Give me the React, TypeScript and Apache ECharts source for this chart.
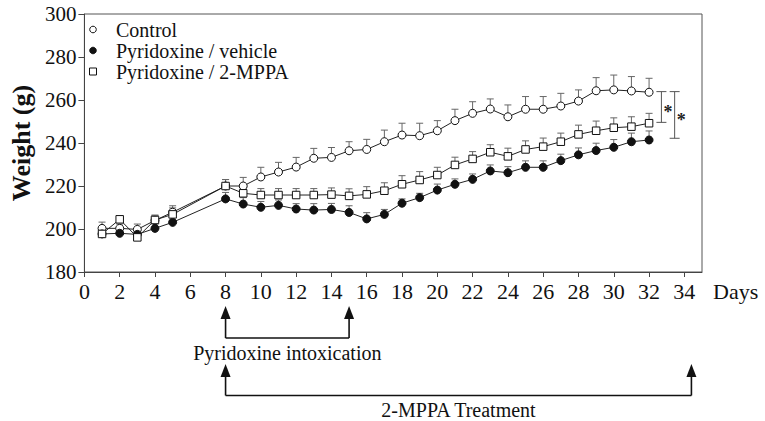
import React, { useEffect, useRef } from 'react';
import * as echarts from 'echarts';

const FONT = "'Liberation Serif', 'Times New Roman', Times, serif";

const days = [1, 2, 3, 4, 5, 8, 9, 10, 11, 12, 13, 14, 15, 16, 17, 18, 19, 20, 21, 22, 23, 24, 25, 26, 27, 28, 29, 30, 31, 32];
const controlMean = [200.3, 200.3, 199.8, 204.0, 207.8, 220.0, 220.0, 224.2, 226.5, 228.8, 232.9, 233.3, 236.4, 237.0, 240.6, 243.7, 243.4, 245.7, 250.4, 253.8, 255.8, 252.2, 255.7, 255.7, 257.2, 259.5, 264.3, 264.7, 264.2, 263.6];
const controlSem = [2.9, 2.0, 2.5, 2.5, 3.0, 3.0, 4.0, 4.5, 4.5, 4.5, 4.6, 4.6, 4.2, 4.7, 5.4, 5.5, 5.8, 4.7, 5.3, 5.4, 4.7, 5.5, 5.9, 5.9, 5.9, 5.2, 6.1, 6.9, 6.7, 6.5];
const vehicleMean = [197.7, 198.0, 197.5, 200.3, 203.1, 214.0, 211.6, 210.1, 211.0, 209.3, 208.8, 209.1, 207.7, 204.7, 206.8, 212.0, 214.6, 218.1, 220.8, 223.1, 227.0, 226.2, 228.7, 228.7, 231.8, 234.5, 236.5, 238.0, 240.6, 241.4];
const vehicleSem = [1.5, 1.5, 1.5, 2.0, 2.5, 3.0, 3.0, 2.7, 2.5, 2.5, 3.0, 2.8, 3.1, 2.9, 2.3, 2.0, 2.0, 2.8, 2.5, 2.5, 2.8, 2.8, 3.0, 3.0, 3.0, 3.2, 3.4, 3.6, 4.0, 4.2];
const mppaMean = [197.7, 204.5, 196.1, 204.2, 206.8, 220.0, 216.6, 215.8, 215.8, 215.8, 215.8, 216.0, 215.4, 216.1, 217.8, 220.8, 222.8, 225.1, 229.8, 232.6, 235.7, 233.8, 237.0, 238.3, 240.6, 244.0, 245.7, 247.1, 247.6, 249.2];
const mppaSem = [1.5, 1.5, 2.0, 2.0, 3.0, 3.0, 2.3, 3.0, 3.0, 3.0, 3.0, 3.1, 3.3, 3.6, 3.7, 4.0, 3.9, 3.6, 3.6, 3.4, 3.5, 3.8, 4.0, 4.0, 4.0, 4.3, 4.5, 4.6, 4.6, 4.6];

const seriesNames = ['Control', 'Pyridoxine / vehicle', 'Pyridoxine / 2-MPPA'];
const xTickValues = [0, 2, 4, 6, 8, 10, 12, 14, 16, 18, 20, 22, 24, 26, 28, 30, 32, 34];
const xAxisName = 'Days';
const yAxisName = 'Weight (g)';

const periodLabels = ['Pyridoxine intoxication', '2-MPPA Treatment'];
const periodStart = [8, 8];
const periodEnd = [15, 34.4];

const sigX = [32.7, 33.45];
const sigTop = [263.9, 263.9];
const sigBottom = [249.6, 242.2];
const sigLabel = ['*', '*'];

// layout (pixel offsets below the x axis for the period annotations)
const annotLayout = [
  { tip: 34, bar: 66, text: 81 },
  { tip: 92, bar: 123.5, text: 138 },
];

function errorRender(params: any, api: any) {
  const x = api.value(0);
  const y = api.value(1);
  const e = api.value(2);
  const p0 = api.coord([x, y]);
  const p1 = api.coord([x, y + e]);
  const hw = 3.5;
  const st = { stroke: '#666', lineWidth: 1 };
  return {
    type: 'group',
    children: [
      { type: 'line', shape: { x1: p0[0], y1: p0[1], x2: p1[0], y2: p1[1] }, style: st },
      { type: 'line', shape: { x1: p1[0] - hw, y1: p1[1], x2: p1[0] + hw, y2: p1[1] }, style: st },
    ],
  };
}

function sigRender(params: any, api: any) {
  const x = api.value(0);
  const pt = api.coord([x, api.value(1)]);
  const pb = api.coord([x, api.value(2)]);
  const hw = 5;
  const st = { stroke: '#555', lineWidth: 1 };
  const mid = (pt[1] + pb[1]) / 2;
  return {
    type: 'group',
    children: [
      { type: 'line', shape: { x1: pt[0], y1: pt[1], x2: pb[0], y2: pb[1] }, style: st },
      { type: 'line', shape: { x1: pt[0] - hw, y1: pt[1], x2: pt[0] + hw, y2: pt[1] }, style: st },
      { type: 'line', shape: { x1: pb[0] - hw, y1: pb[1], x2: pb[0] + hw, y2: pb[1] }, style: st },
      {
        type: 'text',
        x: pt[0] + 2,
        y: mid + 5,
        style: {
          text: sigLabel[params.dataIndex],
          align: 'left',
          verticalAlign: 'middle',
          fontSize: 18,
          fontWeight: 'bold',
          fontFamily: FONT,
          fill: '#222',
        },
      },
    ],
  };
}

function annotRender(params: any, api: any) {
  const i = params.dataIndex;
  const a = api.coord([api.value(0), 180]);
  const b = api.coord([api.value(1), 180]);
  const base = a[1];
  const L = annotLayout[i];
  const tip = base + L.tip;
  const bar = base + L.bar;
  const ah = 13;
  const aw = 5;
  const st = { stroke: '#111', lineWidth: 1.6 };
  const head = (x: number) => ({
    type: 'polygon',
    shape: { points: [[x, tip], [x - aw, tip + ah], [x + aw, tip + ah]] },
    style: { fill: '#111' },
  });
  return {
    type: 'group',
    children: [
      head(a[0]),
      head(b[0]),
      { type: 'line', shape: { x1: a[0], y1: tip + ah - 1, x2: a[0], y2: bar }, style: st },
      { type: 'line', shape: { x1: b[0], y1: tip + ah - 1, x2: b[0], y2: bar }, style: st },
      { type: 'line', shape: { x1: a[0], y1: bar, x2: b[0], y2: bar }, style: st },
      {
        type: 'text',
        x: (a[0] + b[0]) / 2,
        y: base + L.text,
        style: {
          text: periodLabels[i],
          align: 'center',
          verticalAlign: 'middle',
          fontSize: 20,
          fontFamily: FONT,
          fill: '#111',
        },
      },
    ],
  };
}

export default function App() {
  const ref = useRef<HTMLDivElement>(null);
  useEffect(() => {
    if (!ref.current) return;
    const chart = echarts.init(ref.current, undefined, { renderer: 'svg' });
    const means = [controlMean, vehicleMean, mppaMean];
    const sems = [controlSem, vehicleSem, mppaSem];
    const symbolFill = ['#fff', '#111', '#fff'];
    const symbols = ['circle', 'circle', 'rect'];

    const lineSeries = means.map((m, k) => ({
      type: 'line',
      name: seriesNames[k],
      data: days.map((d, i) => [d, m[i]]),
      symbol: symbols[k],
      symbolSize: k === 2 ? 7.5 : 8,
      showAllSymbol: true,
      lineStyle: { color: '#222', width: 1 },
      itemStyle: { color: symbolFill[k], borderColor: '#111', borderWidth: 1 },
      z: 4,
    }));
    const errSeries = means.map((m, k) => ({
      type: 'custom',
      renderItem: errorRender,
      data: days.map((d, i) => [d, m[i], sems[k][i]]),
      encode: { x: 0, y: 1 },
      z: 2,
      silent: true,
    }));

    // legend drawn as graphic rows: symbol + name
    const legendRowsY = [29.5, 50.5, 71.5];
    const legendGraphics: any[] = [];
    seriesNames.forEach((name, k) => {
      const cy = legendRowsY[k];
      const sym =
        symbols[k] === 'rect'
          ? { type: 'rect', shape: { x: 89.5, y: cy - 3.5, width: 7, height: 7 }, style: { fill: '#fff', stroke: '#111', lineWidth: 1 } }
          : { type: 'circle', shape: { cx: 93, cy, r: 3.3 }, style: { fill: symbolFill[k], stroke: '#111', lineWidth: 1 } };
      legendGraphics.push(sym);
      legendGraphics.push({
        type: 'text',
        x: 116,
        y: cy,
        style: { text: name, align: 'left', verticalAlign: 'middle', fontSize: 20, fontFamily: FONT, fill: '#111' },
      });
    });

    chart.setOption({
      animation: false,
      grid: {
        left: 81,
        right: 63,
        top: 14,
        bottom: 149,
        show: true,
        borderColor: '#555',
        borderWidth: 1,
        backgroundColor: 'transparent',
      },
      graphic: [
        ...legendGraphics,
        {
          type: 'text',
          x: 713,
          y: 291,
          style: { text: xAxisName, align: 'left', verticalAlign: 'middle', fontSize: 22, fontFamily: FONT, fill: '#111' },
        },
      ],
      xAxis: {
        type: 'value',
        min: 0,
        max: 35,
        interval: 2,
        axisLine: { show: true, lineStyle: { color: '#444', width: 1 } },
        axisTick: { show: true, inside: false, length: 5, lineStyle: { color: '#444' }, customValues: xTickValues },
        axisLabel: {
          fontSize: 22,
          fontFamily: FONT,
          color: '#111',
          margin: 8,
          customValues: xTickValues,
        },
        splitLine: { show: false },
      },
      yAxis: {
        type: 'value',
        min: 180,
        max: 300,
        interval: 20,
        name: yAxisName,
        nameLocation: 'middle',
        nameRotate: 90,
        nameGap: 47,
        nameTextStyle: { fontSize: 26, fontWeight: 'bold', fontFamily: FONT, color: '#111' },
        axisLine: { show: true, lineStyle: { color: '#444', width: 1 } },
        axisTick: { show: true, inside: false, length: 6, lineStyle: { color: '#444' } },
        axisLabel: { fontSize: 21, fontFamily: FONT, color: '#111', margin: 8 },
        splitLine: { show: false },
      },
      series: [
        ...errSeries,
        ...lineSeries,
        {
          type: 'custom',
          renderItem: sigRender,
          data: sigX.map((x, i) => [x, sigTop[i], sigBottom[i]]),
          encode: { x: 0, y: [1, 2] },
          z: 5,
          silent: true,
        },
        {
          type: 'custom',
          renderItem: annotRender,
          data: periodStart.map((s, i) => [s, periodEnd[i], 180]),
          encode: { x: [0, 1], y: 2 },
          clip: false,
          z: 5,
          silent: true,
        },
      ],
    });
    return () => chart.dispose();
  }, []);
  return (
    <div
      ref={ref}
      style={{ position: 'fixed', left: 0, top: 0, width: 765, height: 421, background: '#fff' }}
    />
  );
}
